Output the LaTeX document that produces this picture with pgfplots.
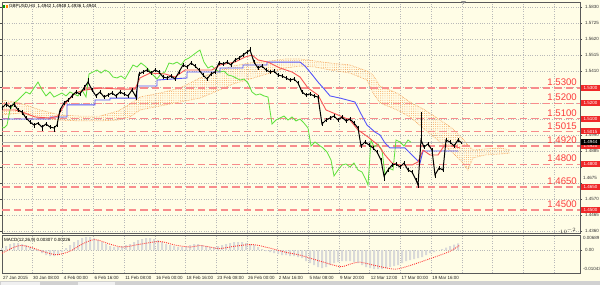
\documentclass[border=0pt]{standalone}
\usepackage{pgfplots}
\pgfplotsset{compat=1.18}
\usepackage{pgfplotstable}
\usetikzlibrary{patterns.meta}
\usepackage{fontspec}
\setmainfont{Liberation Sans}
\newcommand{\tk}{\fontsize{4.5}{5}\selectfont}
\newcommand{\lv}{\fontsize{9.6}{10}\selectfont}
\definecolor{bg}{RGB}{255,253,230}
\definecolor{gridc}{RGB}{185,185,185}
\definecolor{lvl}{RGB}{248,140,140}
\definecolor{lvltxt}{RGB}{252,60,60}
\definecolor{boxred}{RGB}{240,40,40}
\definecolor{tenkan}{RGB}{250,85,85}
\definecolor{kijun}{RGB}{85,85,250}
\definecolor{chikou}{RGB}{95,225,60}
\definecolor{kumo}{RGB}{245,155,75}

\pgfplotstableread{
x p ep em
2 1.5169 0.0015 0.0015
6 1.5195 0.0012 0.0020
10 1.5175 0.0015 0.0012
14 1.5195 0.0010 0.0020
18 1.5156 0.0015 0.0015
22 1.5143 0.0012 0.0020
26 1.5103 0.0015 0.0012
30 1.5077 0.0012 0.0015
34 1.5057 0.0015 0.0020
38 1.5070 0.0010 0.0015
42 1.5044 0.0015 0.0025
46 1.5064 0.0012 0.0015
50 1.5044 0.0015 0.0015
54 1.5038 0.0012 0.0025
57 1.5057 0.0015 0.0012
60 1.5156 0.0015 0.0015
64 1.5202 0.0012 0.0015
68 1.5221 0.0015 0.0012
72 1.5248 0.0012 0.0015
76 1.5274 0.0015 0.0012
80 1.5261 0.0015 0.0015
84 1.5300 0.0020 0.0012
88 1.5339 0.0025 0.0015
92 1.5287 0.0012 0.0015
96 1.5248 0.0015 0.0015
100 1.5274 0.0012 0.0015
104 1.5241 0.0015 0.0012
108 1.5254 0.0012 0.0015
112 1.5267 0.0015 0.0012
116 1.5248 0.0012 0.0015
120 1.5274 0.0015 0.0012
124 1.5261 0.0012 0.0015
128 1.5248 0.0015 0.0015
132 1.5287 0.0012 0.0012
136 1.5241 0.0015 0.0020
139 1.5392 0.0015 0.0012
143 1.5405 0.0012 0.0015
147 1.5418 0.0015 0.0012
151 1.5398 0.0012 0.0015
155 1.5418 0.0015 0.0012
159 1.5405 0.0012 0.0015
163 1.5372 0.0015 0.0012
167 1.5366 0.0012 0.0015
171 1.5379 0.0015 0.0012
175 1.5359 0.0012 0.0015
179 1.5405 0.0015 0.0012
183 1.5451 0.0015 0.0015
187 1.5438 0.0012 0.0015
191 1.5464 0.0015 0.0012
195 1.5444 0.0012 0.0015
199 1.5418 0.0015 0.0012
203 1.5385 0.0012 0.0015
207 1.5359 0.0015 0.0015
211 1.5392 0.0012 0.0012
215 1.5405 0.0015 0.0015
219 1.5464 0.0015 0.0012
223 1.5457 0.0012 0.0015
227 1.5470 0.0015 0.0012
231 1.5451 0.0012 0.0015
235 1.5484 0.0015 0.0012
239 1.5497 0.0012 0.0015
243 1.5516 0.0015 0.0012
247 1.5536 0.0012 0.0015
250 1.5549 0.0020 0.0015
254 1.5470 0.0015 0.0012
258 1.5431 0.0012 0.0015
262 1.5444 0.0015 0.0012
266 1.5418 0.0012 0.0015
270 1.5405 0.0015 0.0012
274 1.5411 0.0012 0.0015
278 1.5385 0.0015 0.0012
282 1.5379 0.0012 0.0015
286 1.5366 0.0015 0.0012
290 1.5352 0.0012 0.0015
294 1.5359 0.0015 0.0012
298 1.5333 0.0012 0.0015
302 1.5274 0.0015 0.0012
306 1.5254 0.0012 0.0015
310 1.5261 0.0015 0.0012
314 1.5248 0.0012 0.0015
318 1.5241 0.0015 0.0012
322 1.5064 0.0015 0.0015
326 1.5090 0.0012 0.0015
330 1.5103 0.0015 0.0012
334 1.5116 0.0012 0.0015
338 1.5090 0.0015 0.0012
342 1.5110 0.0012 0.0015
346 1.5084 0.0015 0.0012
350 1.5097 0.0012 0.0015
354 1.5070 0.0015 0.0012
358 1.5038 0.0012 0.0015
361 1.4920 0.0015 0.0015
365 1.4946 0.0015 0.0012
369 1.4926 0.0012 0.0015
373 1.4907 0.0015 0.0012
377 1.4880 0.0012 0.0015
381 1.4828 0.0015 0.0015
384 1.4723 0.0015 0.0030
388 1.4762 0.0015 0.0012
392 1.4795 0.0012 0.0015
396 1.4802 0.0015 0.0012
400 1.4782 0.0012 0.0015
404 1.4808 0.0015 0.0012
408 1.4762 0.0012 0.0015
412 1.4749 0.0015 0.0012
416 1.4697 0.0012 0.0015
418 1.4664 0.0015 0.0020
421 1.4959 0.0184 0.0015
424 1.4913 0.0015 0.0012
428 1.4933 0.0012 0.0015
432 1.4893 0.0015 0.0012
435 1.4730 0.0015 0.0020
439 1.4775 0.0012 0.0015
443 1.4762 0.0015 0.0012
446 1.4959 0.0015 0.0012
450 1.4946 0.0012 0.0015
454 1.4920 0.0015 0.0012
458 1.4959 0.0012 0.0015
461 1.4944 0.0004 0.0008
}\blk

\pgfplotstableread{
x p
2 1.5156
15 1.5156
25 1.5136
35 1.5110
50 1.5103
58 1.5116
65 1.5195
75 1.5267
85 1.5287
100 1.5300
120 1.5293
135 1.5293
140 1.5366
150 1.5398
165 1.5392
175 1.5372
185 1.5418
212 1.5418
220 1.5451
235 1.5470
245 1.5503
252 1.5516
258 1.5484
268 1.5470
280 1.5431
292 1.5405
300 1.5372
308 1.5300
318 1.5254
326 1.5156
338 1.5123
350 1.5090
358 1.5025
368 1.4979
378 1.4926
385 1.4861
392 1.4808
400 1.4795
412 1.4795
418 1.4815
423 1.4893
430 1.4861
438 1.4861
444 1.4920
452 1.4920
460 1.4907
}\tenk

\pgfplotstableread{
x p
2 1.5097
50 1.5097
50 1.5110
67 1.5110
67 1.5189
95 1.5189
95 1.5221
110 1.5221
110 1.5234
137 1.5234
137 1.5313
157 1.5313
157 1.5352
187 1.5366
187 1.5405
220 1.5405
220 1.5431
243 1.5431
243 1.5451
267 1.5451
267 1.5470
300 1.5470
305 1.5444
310 1.5405
318 1.5339
325 1.5287
330 1.5248
340 1.5234
355 1.5208
360 1.5143
367 1.5057
375 1.5011
380 1.4992
385 1.4939
390 1.4907
405 1.4907
412 1.4861
420 1.4808
423 1.4887
458 1.4887
}\kij

\pgfplotstableread{
x p
2 1.5044
4 1.5038
7 1.5057
10 1.5156
14 1.5202
18 1.5221
22 1.5248
26 1.5274
30 1.5261
34 1.5300
38 1.5339
42 1.5287
46 1.5248
50 1.5274
54 1.5241
58 1.5254
62 1.5267
66 1.5248
70 1.5274
74 1.5261
78 1.5248
82 1.5287
86 1.5241
89 1.5392
93 1.5405
97 1.5418
101 1.5398
105 1.5418
109 1.5405
113 1.5372
117 1.5366
121 1.5379
125 1.5359
129 1.5405
133 1.5451
137 1.5438
141 1.5464
145 1.5444
149 1.5418
153 1.5385
157 1.5359
161 1.5392
165 1.5405
169 1.5464
173 1.5457
177 1.5470
181 1.5451
185 1.5484
189 1.5497
193 1.5516
197 1.5536
200 1.5549
204 1.5470
208 1.5431
212 1.5444
216 1.5418
220 1.5405
224 1.5411
228 1.5385
232 1.5379
236 1.5366
240 1.5352
244 1.5359
248 1.5333
252 1.5274
256 1.5254
260 1.5261
264 1.5248
268 1.5241
272 1.5064
276 1.5090
280 1.5103
284 1.5116
288 1.5090
292 1.5110
296 1.5084
300 1.5097
304 1.5070
308 1.5038
311 1.4920
315 1.4946
319 1.4926
323 1.4907
327 1.4880
331 1.4828
334 1.4723
338 1.4762
342 1.4795
346 1.4802
350 1.4782
354 1.4808
358 1.4762
362 1.4749
366 1.4697
368 1.4664
371 1.4959
374 1.4913
378 1.4933
382 1.4893
385 1.4730
389 1.4775
393 1.4762
396 1.4959
400 1.4946
404 1.4920
408 1.4959
411 1.4944
}\chik

\pgfplotstableread{
x up lo
2 1.5221 1.5123
20 1.5202 1.5136
40 1.5156 1.5103
60 1.5123 1.5090
80 1.5116 1.5084
100 1.5116 1.5084
118 1.5149 1.5090
130 1.5195 1.5110
140 1.5241 1.5156
160 1.5267 1.5182
180 1.5300 1.5208
200 1.5366 1.5234
215 1.5405 1.5274
233 1.5444 1.5326
250 1.5464 1.5359
270 1.5477 1.5398
285 1.5490 1.5431
300 1.5490 1.5444
315 1.5477 1.5438
330 1.5464 1.5418
350 1.5451 1.5398
367 1.5411 1.5352
373 1.5385 1.5267
380 1.5313 1.5202
397 1.5267 1.5156
410 1.5208 1.5110
425 1.5156 1.5025
440 1.5090 1.4946
452 1.5038 1.4880
462 1.4972 1.4815
468 1.4926 1.4762
473 1.4893 1.4841
485 1.4900 1.4861
500 1.4907 1.4867
510 1.4893 1.4874
}\kumo

\pgfplotstableread{
x p
2 1.5221
20 1.5202
40 1.5156
60 1.5123
80 1.5116
100 1.5116
118 1.5149
130 1.5195
140 1.5241
160 1.5267
180 1.5300
200 1.5366
215 1.5405
233 1.5444
250 1.5464
270 1.5477
285 1.5490
300 1.5490
315 1.5477
330 1.5464
350 1.5451
367 1.5411
373 1.5385
380 1.5313
397 1.5267
410 1.5208
425 1.5156
440 1.5090
452 1.5038
462 1.4972
468 1.4926
473 1.4893
485 1.4900
500 1.4907
510 1.4893
510 1.4874
500 1.4867
485 1.4861
473 1.4841
468 1.4762
462 1.4815
452 1.4880
440 1.4946
425 1.5025
410 1.5110
397 1.5156
380 1.5202
373 1.5267
367 1.5352
350 1.5398
330 1.5418
315 1.5438
300 1.5444
285 1.5431
270 1.5398
250 1.5359
233 1.5326
215 1.5274
200 1.5234
180 1.5208
160 1.5182
140 1.5156
130 1.5110
118 1.5090
100 1.5084
80 1.5084
60 1.5090
40 1.5103
20 1.5136
2 1.5123
}\kumopoly

\pgfplotstableread{
x v
2 0.0009
6 0.0018
10 0.0027
14 0.0032
18 0.0032
22 0.0027
26 0.0023
30 0.0014
34 0.0005
38 -0.0005
42 -0.0014
46 -0.0023
50 -0.0027
54 -0.0027
58 -0.0023
62 -0.0009
66 0.0009
70 0.0023
74 0.0036
78 0.0046
82 0.0055
86 0.0059
90 0.0059
94 0.0055
98 0.0046
102 0.0036
106 0.0027
110 0.0018
114 0.0014
118 0.0014
122 0.0018
126 0.0023
130 0.0027
134 0.0036
138 0.0046
142 0.0050
146 0.0055
150 0.0055
154 0.0050
158 0.0046
162 0.0036
166 0.0027
170 0.0023
174 0.0018
178 0.0014
182 0.0014
186 0.0018
190 0.0023
194 0.0027
198 0.0027
202 0.0023
206 0.0018
210 0.0014
214 0.0014
218 0.0018
222 0.0023
226 0.0027
230 0.0032
234 0.0036
238 0.0036
242 0.0036
246 0.0032
250 0.0027
254 0.0023
258 0.0014
262 0.0005
266 -0.0005
270 -0.0009
274 -0.0014
278 -0.0018
282 -0.0023
286 -0.0023
290 -0.0027
294 -0.0027
298 -0.0032
302 -0.0036
306 -0.0050
310 -0.0059
314 -0.0068
318 -0.0078
322 -0.0082
326 -0.0078
330 -0.0068
334 -0.0059
338 -0.0055
342 -0.0050
346 -0.0050
350 -0.0050
354 -0.0055
358 -0.0059
362 -0.0068
366 -0.0078
370 -0.0082
374 -0.0087
378 -0.0087
382 -0.0087
386 -0.0082
390 -0.0078
394 -0.0073
398 -0.0068
402 -0.0059
406 -0.0050
410 -0.0046
414 -0.0041
418 -0.0036
422 -0.0032
426 -0.0023
430 -0.0014
434 -0.0009
438 0.0000
442 0.0005
446 0.0011
450 0.0018
454 0.0025
458 0.00307
}\hist

\pgfplotstableread{
x v
2 -0.0014
10 0.0005
20 0.0021
30 0.0014
45 -0.0009
57 -0.0021
70 -0.0005
82 0.0027
95 0.0048
110 0.0027
123 0.0014
140 0.0027
160 0.0039
175 0.0023
190 0.0014
200 0.0021
210 0.0014
220 0.0007
235 0.0018
253 0.0025
270 0.0009
285 -0.0009
300 -0.0023
320 -0.0050
340 -0.0075
350 -0.0064
360 -0.0055
378 -0.0073
395 -0.0087
408 -0.0073
420 -0.0055
430 -0.0039
440 -0.0023
450 -0.0005
460 0.00226
}\sig

\begin{document}
\begin{tikzpicture}[x=1pt,y=1pt]
\fill[bg] (0,0) rectangle (600,285);
\useasboundingbox (0,0) rectangle (600,285);
\fill[black!18] (0,0) rectangle (600,4);
\fill[black!6] (1,0) rectangle (40,3.5);
\fill[black!6] (78,0) rectangle (115,3.5);

\begin{axis}[
  at={(2pt,52pt)}, anchor=south west, scale only axis,
  width=578pt, height=231pt,
  xmin=2, xmax=580, ymin=1.43492, ymax=1.58639,
  clip=false,
  axis line style={draw=black!65, line width=0.6pt},
  xtick={32,62.7,93.4,124.1,154.8,185.5,216.2,246.9,277.6,308.3,339,369.7,400.4,431.1,461.8,492.5,523.2,553.9},
  xticklabels={}, xtick style={draw=none},
  ytick={1.4360,1.4465,1.4570,1.4675,1.4780,1.4885,1.4990,1.5095,1.5200,1.5305,1.5410,1.5515,1.5620,1.5725,1.5830},
  yticklabels={1.4360,1.4465,1.4570,{},{},1.4885,1.4990,{},{},{},1.5410,1.5515,1.5620,1.5725,1.5830},
  yticklabel pos=right,
  tick align=outside, major tick length=2pt,
  ytick style={black!70, line width=0.4pt},
  yticklabel style={font=\tk, text=black!80, xshift=-0.5pt},
  xmajorgrids, ymajorgrids,
  grid style={gridc, line width=0.5pt, dash pattern=on 1pt off 1.4pt},
]
\addplot[draw=none, pattern={Dots[distance=2.2pt,radius=0.45pt]}, pattern color=kumo] table[x=x,y=p] {\kumopoly} -- cycle;
\addplot[kumo, densely dotted, line width=0.6pt] table[x=x,y=up] {\kumo};
\addplot[kumo, densely dotted, line width=0.6pt] table[x=x,y=lo] {\kumo};

\pgfplotsinvokeforeach{1.5300,1.5200,1.5100,1.5015,1.4920,1.4800,1.4650,1.4500}{
  \addplot[lvl, line width=1.3pt, dash pattern=on 7.5pt off 4pt] coordinates {(2,#1) (580,#1)};
}
\addplot[black!30, line width=0.5pt] coordinates {(2,1.4944) (580,1.4944)};

\addplot[chikou, line width=0.8pt] table[x=x,y=p] {\chik};
\addplot[kijun, line width=0.9pt] table[x=x,y=p] {\kij};
\addplot[tenkan, line width=0.9pt] table[x=x,y=p] {\tenk};
\addplot[black, line width=1pt, error bars/.cd, y dir=both, y explicit, error mark=none,
  error bar style={line width=0.7pt, black}] table[x=x, y=p, y error plus=ep, y error minus=em] {\blk};

\pgfplotsinvokeforeach{1.5300,1.5200,1.5100,1.5015,1.4920,1.4800,1.4650,1.4500}{
  \node[anchor=south east, text=lvltxt, font=\lv, inner sep=0pt, yshift=2pt] at (axis cs:577,#1) {#1};
  \node[anchor=west, fill=boxred, text=white, font=\tk, minimum width=18.5pt, minimum height=6pt, inner sep=0pt, xshift=1pt] at (axis cs:580,#1) {#1};
}
\node[anchor=west, fill=black, text=white, font=\tk, minimum width=18.5pt, minimum height=6pt, inner sep=0pt, xshift=1pt] at (axis cs:580,1.4944) {1.4944};
\node[anchor=west, font=\tk, text=black!80, inner sep=0pt, xshift=3pt] at (axis cs:580,1.4712) {1.4675};
\end{axis}

\node[anchor=west, font=\tk, inner sep=0pt] at (9,279) {GBPUSD,H4\ \ 1.4942 1.4948 1.4936 1.4944};
\fill[green!60!black] (3,277.5) rectangle (5,280.5);
\fill[orange] (5.5,277.5) rectangle (7.5,280.5);
\fill[black!45] (461,284) -- (466,284) -- (463.5,281) -- cycle;

\begin{axis}[
  at={(2pt,12pt)}, anchor=south west, scale only axis,
  width=578pt, height=38pt,
  xmin=2, xmax=580, ymin=-0.01043, ymax=0.00689,
  clip=false,
  axis line style={draw=black!65, line width=0.6pt},
  xtick={32,62.7,93.4,124.1,154.8,185.5,216.2,246.9,277.6,308.3,339,369.7,400.4,431.1,461.8,492.5,523.2,553.9},
  xticklabels={}, xtick style={draw=none},
  extra x ticks={2,32,62.7,93.4,124.1,154.8,185.5,216.2,246.9,277.6,308.3,339,369.7,400.4,431.1},
  extra x tick labels={27 Jan 2015,30 Jan 08:00,4 Feb 00:00,6 Feb 16:00,11 Feb 08:00,16 Feb 00:00,18 Feb 16:00,23 Feb 08:00,26 Feb 00:00,2 Mar 16:00,5 Mar 08:00,9 Mar 20:00,12 Mar 12:00,17 Mar 00:00,19 Mar 16:00},
  extra x tick style={grid=none, tick label style={anchor=north west, font=\tk, text=black!85, inner sep=0pt, yshift=-1pt, xshift=1pt}},
  ytick={0}, yticklabels={0.00},
  yticklabel pos=right,
  tick align=outside, major tick length=2pt,
  ytick style={black!70, line width=0.4pt},
  yticklabel style={font=\tk, text=black!80, xshift=-0.5pt},
  xmajorgrids, ymajorgrids,
  grid style={gridc, line width=0.5pt, dash pattern=on 1pt off 1.4pt},
]
\addplot[ybar, bar width=2pt, fill=black!15, draw=none] table[x=x,y=v] {\hist};
\addplot[red!80, line width=0.9pt, dash pattern=on 0.9pt off 1.1pt, smooth] table[x=x,y=v] {\sig};
\node[anchor=west, font=\tk, text=black!80, inner sep=0pt, xshift=3pt, yshift=-3pt] at (axis cs:580,0.00689) {0.00689};
\node[anchor=west, font=\tk, text=black!80, inner sep=0pt, xshift=3pt, yshift=4pt] at (axis cs:580,-0.01043) {-0.01043};
\node[anchor=west, font=\tk, inner sep=0pt] at (axis cs:4,0.0043) {MACD(12,26,9) 0.00307 0.00226};
\end{axis}
\end{tikzpicture}
\end{document}
